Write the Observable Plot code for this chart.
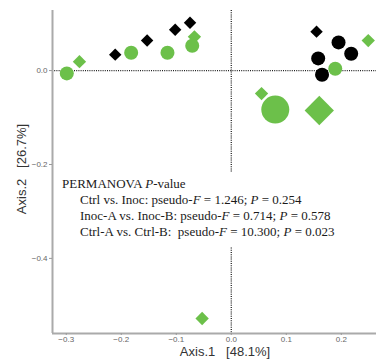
<!DOCTYPE html>
<html><head><meta charset="utf-8">
<script src="https://cdn.jsdelivr.net/npm/d3@7"></script>
<script src="https://cdn.jsdelivr.net/npm/@observablehq/plot@0.6"></script>
<style>
html,body{margin:0;padding:0;background:#fff;}
#chart{width:376px;height:360px;}
</style></head><body><div id="chart"></div>
<script>
// Sample metadata
const treatment = ["Ctrl","Ctrl","Ctrl","Ctrl","Ctrl","Ctrl","Ctrl","Ctrl","Ctrl",
                   "Inoc","Inoc","Inoc","Inoc","Inoc","Inoc","Inoc","Inoc","Inoc","Inoc","Inoc","Inoc"];
const site = ["A","A","A","A","A","B","B","B","B",
              "B","B","B","B","B","B","A","A","A","A","A","A"];
// PCoA coordinates
const axis1 = [-0.211,-0.153,-0.102,-0.075,0.155, 0.195,0.158,0.218,0.165,
               -0.299,-0.182,-0.116,-0.071,0.189,0.080, -0.276,-0.067,0.249,0.055,0.160,-0.053];
const axis2 = [0.034,0.064,0.087,0.102,0.083, 0.060,0.026,0.036,-0.009,
               -0.006,0.038,0.038,0.053,0.004,-0.083, 0.019,0.072,0.064,-0.049,-0.085,-0.528];
// relative weight of each sample (symbol size)
const weight = [1,1,1,1,1, 1,1,1,1, 1,1,1,1,1,2, 1,1,1,1,2.2,1];

const xTicks = [-0.3,-0.2,-0.1,0.0,0.1,0.2];
const yTicks = [0.0,-0.2,-0.4];
const xLabel = "Axis.1\u00a0\u00a0\u00a0[48.1%]";
const yLabel = "Axis.2\u00a0\u00a0\u00a0[26.7%]";
const statsTitle = ["PERMANOVA ", {i:"P"}, "-value"];
const statsLines = [
  ["Ctrl vs. Inoc: pseudo-", {i:"F"}, " = 1.246; ", {i:"P"}, " = 0.254"],
  ["Inoc-A vs. Inoc-B: pseudo-", {i:"F"}, " = 0.714; ", {i:"P"}, " = 0.578"],
  ["Ctrl-A vs. Ctrl-B:\u00a0 pseudo-", {i:"F"}, " = 10.300; ", {i:"P"}, " = 0.023"]
];

const data = treatment.map((t,i) => ({t, s: site[i], x: axis1[i], y: axis2[i], w: weight[i]}));
const xDomain = [-0.325, 0.264], yDomain = [-0.56, 0.128];
const green = "#6cc04a";

const chart = Plot.plot({
  width: 376, height: 360,
  marginLeft: 52, marginRight: 0, marginTop: 10, marginBottom: 27,
  style: {fontFamily: "'Liberation Sans', Arial, sans-serif", fontSize: "8px", color: "#666", background: "#fff"},
  x: {domain: xDomain, ticks: xTicks, tickFormat: d3.format(".1f"), label: null},
  y: {domain: yDomain, ticks: yTicks, tickFormat: d3.format(".1f"), label: null},
  color: {domain: ["Ctrl","Inoc"], range: ["#000000", green]},
  r: {type: "identity"},
  marks: [
    Plot.ruleX([0], {stroke: "#222", strokeWidth: 1.3, strokeDasharray: "1,1.2"}),
    Plot.ruleY([0], {stroke: "#222", strokeWidth: 1.3, strokeDasharray: "1,1.2"}),
    Plot.ruleX([xDomain[0]], {stroke: "#aaa", strokeWidth: 2}),
    Plot.ruleY([yDomain[0]], {stroke: "#aaa", strokeWidth: 2}),
    Plot.axisX({ticks: xTicks, tickFormat: d3.format(".1f"), tickSize: 2, tickPadding: 1, stroke: "#999", fill: "#666", label: null}),
    Plot.axisY({ticks: yTicks, tickFormat: d3.format(".1f"), tickSize: 3, tickPadding: 2, stroke: "#999", fill: "#666", label: null}),
    Plot.dot(data.filter(d => d.t === "Ctrl" && d.s === "A"), {x: "x", y: "y", symbol: "diamond2", r: d => 5.6 * d.w, fill: "t"}),
    Plot.dot(data.filter(d => d.t === "Ctrl" && d.s === "B"), {x: "x", y: "y", symbol: "circle", r: d => 7 * d.w, fill: "t"}),
    Plot.dot(data.filter(d => d.t === "Inoc" && d.s === "A"), {x: "x", y: "y", symbol: "diamond2", r: d => 6 * d.w, fill: "t"}),
    Plot.dot(data.filter(d => d.t === "Inoc" && d.s === "B"), {x: "x", y: "y", symbol: "circle", r: d => 7 * d.w, fill: "t"})
  ]
});
document.getElementById("chart").appendChild(chart);

const svg = d3.select(chart);
// axis titles
svg.append("text").attr("x", 225).attr("y", 356).attr("text-anchor", "middle")
  .attr("font-family", "'Liberation Sans', Arial, sans-serif").attr("font-size", 13).attr("fill", "#333")
  .text(xLabel);
svg.append("text").attr("transform", "translate(26,169) rotate(-90)").attr("text-anchor", "middle")
  .attr("font-family", "'Liberation Sans', Arial, sans-serif").attr("font-size", 13).attr("fill", "#333")
  .text(yLabel);
// PERMANOVA annotation on a white box
const box = svg.append("rect").attr("fill", "#fff");
const texts = [];
function addLine(parts, x, y) {
  const t = svg.append("text").attr("x", x).attr("y", y).attr("text-anchor", "start")
    .attr("font-family", "'Liberation Serif', 'Times New Roman', serif").attr("font-size", 13).attr("fill", "#1a1a1a");
  parts.forEach(p => {
    if (typeof p === "string") t.append("tspan").text(p);
    else t.append("tspan").attr("font-style", "italic").text(p.i);
  });
  texts.push(t.node());
}
addLine(statsTitle, 62, 188);
statsLines.forEach((l, i) => addLine(l, 80, 204 + 16 * i));
const bb = texts.map(n => n.getBBox());
const x0 = d3.min(bb, b => b.x) - 4, x1 = d3.max(bb, b => b.x + b.width) + 4;
const y0 = d3.min(bb, b => b.y) - 4, y1 = d3.max(bb, b => b.y + b.height) + 8;
box.attr("x", x0).attr("y", y0).attr("width", x1 - x0).attr("height", y1 - y0);
</script>
</body></html>
